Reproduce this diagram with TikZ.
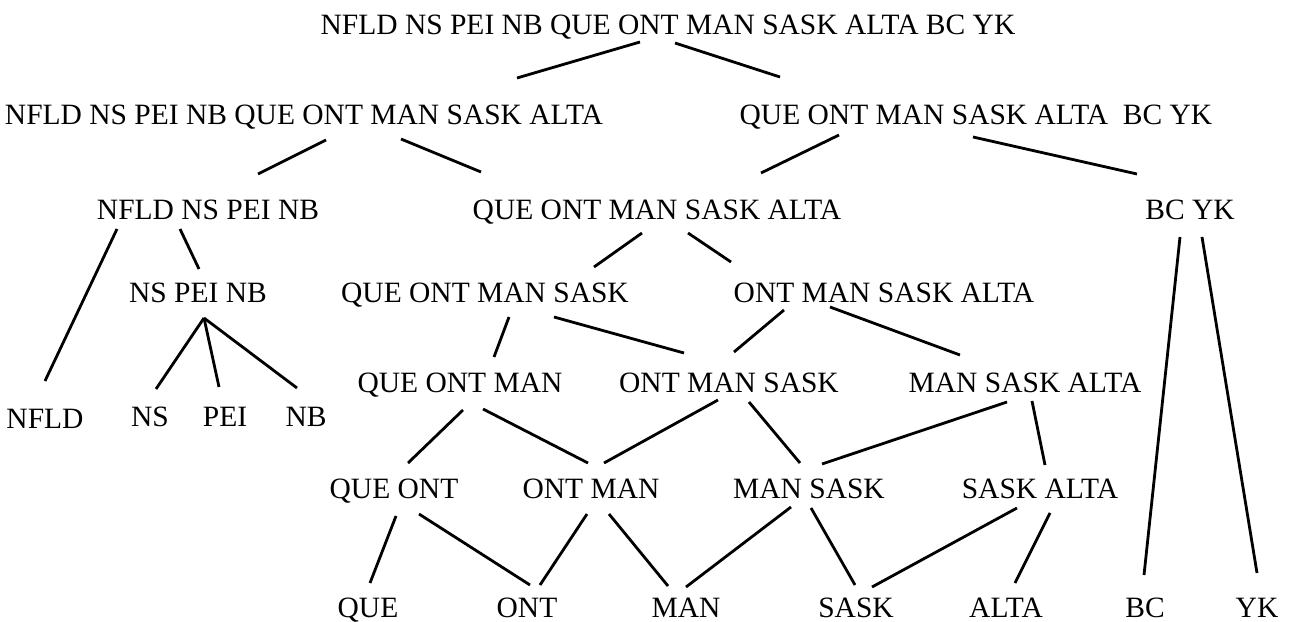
\documentclass[tikz,border=0pt]{standalone}
\usepackage{fontspec}
\setmainfont{Liberation Serif}
\usetikzlibrary{calc}
\begin{document}
\begin{tikzpicture}[x=1pt,y=-1pt,
  t/.style={anchor=base, inner sep=0pt, font=\fontsize{29.5}{30}\selectfont},
  ln/.style={line width=2.8pt, black}]
\fill[white] (0,0) rectangle (1292,621);
\useasboundingbox (0,0) rectangle (1292,621);
% nodes
\node[t] (r1) at (668,34) {NFLD NS PEI NB QUE ONT MAN SASK ALTA BC YK};
\node[t] (r2a) at (304,124) {NFLD NS PEI NB QUE ONT MAN SASK ALTA};
\node[t] (r2b) at (976,124) {QUE ONT MAN SASK ALTA\ \ BC YK};
\node[t] (r3a) at (208,219) {NFLD NS PEI NB};
\node[t] (r3b) at (657,219) {QUE ONT MAN SASK ALTA};
\node[t] (r3c) at (1190,219) {BC YK};
\node[t] (r4a) at (198,302) {NS PEI NB};
\node[t] (r4b) at (485,302) {QUE ONT MAN SASK};
\node[t] (r4c) at (884,302) {ONT MAN SASK ALTA};
\node[t] (nfld) at (45,428) {NFLD};
\node[t] (ns) at (150,426) {NS};
\node[t] (pei) at (225,426) {PEI};
\node[t] (nb) at (306,426) {NB};
\node[t] (r5a) at (460,392) {QUE ONT MAN};
\node[t] (r5b) at (729,392) {ONT MAN SASK};
\node[t] (r5c) at (1025,392) {MAN SASK ALTA};
\node[t] (qo) at (394,498) {QUE ONT};
\node[t] (om) at (591,498) {ONT MAN};
\node[t] (ms) at (809,498) {MAN SASK};
\node[t] (sa) at (1040,498) {SASK ALTA};
\node[t] (que) at (368,617) {QUE};
\node[t] (ont) at (527,617) {ONT};
\node[t] (man) at (686,617) {MAN};
\node[t] (sask) at (856,617) {SASK};
\node[t] (alta) at (1006,617) {ALTA};
\node[t] (bc) at (1145,617) {BC};
\node[t] (yk) at (1257,617) {YK};
% connectors
\draw[ln] ($(r1.base)+(-28,8)$) -- ($(r2a.base)+(213,-46)$);
\draw[ln] ($(r1.base)+(7,9)$) -- ($(r2b.base)+(-196,-47)$);
\draw[ln] ($(r2a.base)+(22,16)$) -- ($(r3a.base)+(50,-45)$);
\draw[ln] ($(r2a.base)+(97,15)$) -- ($(r3b.base)+(-176,-47)$);
\draw[ln] ($(r2b.base)+(-137,11)$) -- ($(r3b.base)+(104,-46)$);
\draw[ln] ($(r2b.base)+(-3,13)$) -- ($(r3c.base)+(-53,-45)$);
\draw[ln] ($(r3a.base)+(-91,10)$) -- ($(nfld.base)+(0,-47)$);
\draw[ln] ($(r3a.base)+(-28,10)$) -- ($(r4a.base)+(1,-33)$);
\draw[ln] ($(r3b.base)+(-15,14)$) -- ($(r4b.base)+(109,-35)$);
\draw[ln] ($(r3b.base)+(31,14)$) -- ($(r4c.base)+(-153,-40)$);
\draw[ln] ($(r3c.base)+(-10,18)$) -- ($(bc.base)+(-1,-42)$);
\draw[ln] ($(r3c.base)+(12,18)$) -- ($(yk.base)+(0,-44)$);
\draw[ln] ($(r4a.base)+(6,16)$) -- ($(ns.base)+(6,-37)$);
\draw[ln] ($(r4a.base)+(6,16)$) -- ($(pei.base)+(-6,-39)$);
\draw[ln] ($(r4a.base)+(6,16)$) -- ($(nb.base)+(-9,-38)$);
\draw[ln] ($(r4b.base)+(24,15)$) -- ($(r5a.base)+(34,-35)$);
\draw[ln] ($(r4b.base)+(69,15)$) -- ($(r5b.base)+(-45,-39)$);
\draw[ln] ($(r4c.base)+(-100,8)$) -- ($(r5b.base)+(5,-40)$);
\draw[ln] ($(r4c.base)+(-54,5)$) -- ($(r5c.base)+(-65,-37)$);
\draw[ln] ($(r5a.base)+(3,18)$) -- ($(qo.base)+(14,-35)$);
\draw[ln] ($(r5a.base)+(23,17)$) -- ($(om.base)+(-3,-35)$);
\draw[ln] ($(r5b.base)+(-11,8)$) -- ($(om.base)+(13,-35)$);
\draw[ln] ($(r5b.base)+(20,10)$) -- ($(ms.base)+(-9,-35)$);
\draw[ln] ($(r5c.base)+(-18,10)$) -- ($(ms.base)+(13,-34)$);
\draw[ln] ($(r5c.base)+(7,9)$) -- ($(sa.base)+(5,-33)$);
\draw[ln] ($(qo.base)+(2,18)$) -- ($(que.base)+(2,-34)$);
\draw[ln] ($(qo.base)+(25,16)$) -- ($(ont.base)+(3,-32)$);
\draw[ln] ($(om.base)+(-4,16)$) -- ($(ont.base)+(13,-32)$);
\draw[ln] ($(om.base)+(18,16)$) -- ($(man.base)+(-18,-31)$);
\draw[ln] ($(ms.base)+(-18,9)$) -- ($(man.base)+(0,-30)$);
\draw[ln] ($(ms.base)+(2,10)$) -- ($(sask.base)+(-1,-32)$);
\draw[ln] ($(sa.base)+(-23,10)$) -- ($(sask.base)+(16,-30)$);
\draw[ln] ($(sa.base)+(10,15)$) -- ($(alta.base)+(9,-34)$);
\end{tikzpicture}
\end{document}
